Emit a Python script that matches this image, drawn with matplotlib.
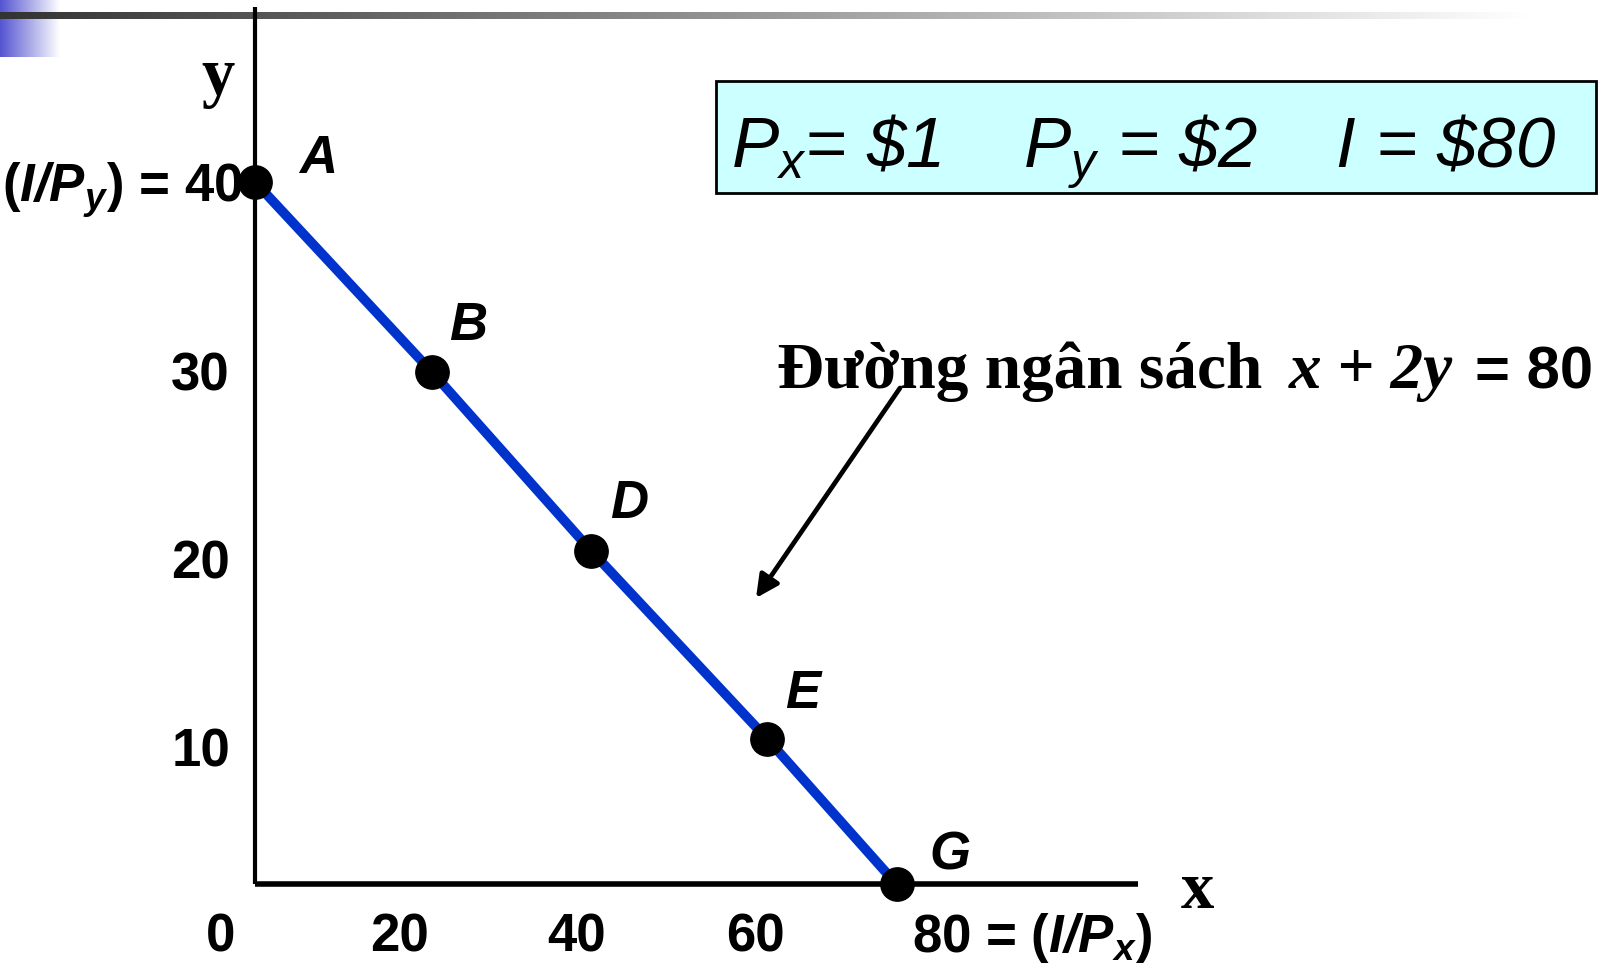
import numpy as np
import matplotlib.pyplot as plt
from matplotlib.patches import Rectangle

SANS = 'Liberation Sans'
SERIF = 'Liberation Serif'

plt.rcParams['mathtext.fontset'] = 'custom'
plt.rcParams['mathtext.rm'] = SANS + ':italic'
plt.rcParams['mathtext.it'] = SANS + ':italic'
plt.rcParams['mathtext.bf'] = SANS + ':bold:italic'

point_names = ['A', 'B', 'D', 'E', 'G']
goods_x = [3.8, 23.7, 41.6, 61.4, 75.9]
goods_y = [40.0, 29.9, 20.4, 10.4, 2.7]

x_ticks = [0, 20, 40, 60]
y_ticks = [10, 20, 30]

# pixel calibration of the slide (label "0" sits at 221,935)
PX0, PY0 = 221, 935
SX, SY = 8.9, 18.83
W, H = 1608, 963


def dx(px):
    return (px - PX0) / SX


def dy(py):
    return (PY0 - py) / SY


fig = plt.figure(figsize=(W / 100, H / 100), dpi=100)

# slide decoration: grey rule and blue corner block
deco = fig.add_axes([0, 0, 1, 1])
t = np.linspace(0, 1, 400)
blue = np.array([0.33, 0.33, 0.82])
blk = blue[None, :] + (1 - blue[None, :]) * t[:, None]
deco.imshow(blk[None, :, :], extent=(0, 60, 57, 0), aspect='auto')
g = np.clip(0.2 + 0.8 * t / 0.95, 0, 1)
grey = np.stack([g, g, g], axis=1)
deco.imshow(grey[None, :, :], extent=(0, W, 19, 12), aspect='auto')
deco.set_xlim(0, W)
deco.set_ylim(H, 0)
deco.axis('off')

ax = fig.add_axes([0, 0, 1, 1])
ax.set_xlim(dx(0), dx(W))
ax.set_ylim(dy(H), dy(0))
ax.axis('off')
ax.patch.set_alpha(0)

# axes drawn by hand, through A and G
ax.plot([goods_x[0], goods_x[0]], [goods_y[-1], dy(7)],
        color='black', lw=3, solid_capstyle='butt')
ax.plot([goods_x[0], dx(1138)], [goods_y[-1], goods_y[-1]],
        color='black', lw=4, solid_capstyle='butt')

ax.plot(goods_x, goods_y, color='#0033CC', lw=7, zorder=3)
ax.scatter(goods_x, goods_y, s=24 ** 2, color='black', zorder=4)

label_offsets = [(63, 9), (36, 32), (38, 33), (35, 31), (53, 15)]
for name, x, y, off in zip(point_names, goods_x, goods_y, label_offsets):
    ax.annotate(name, (x, y), xytext=off, textcoords='offset pixels',
                ha='center', va='baseline', fontsize=38, fontweight='bold',
                fontstyle='italic', family=SANS)

tick_font = dict(fontsize=38, fontweight='bold', family=SANS)
for v in x_ticks:
    ax.text(v, -0.9, str(v), ha='center', va='baseline', **tick_font)
ax.text(77.6, -0.9, r'80 = ($\mathbf{I/P_x}$)', ha='left', va='baseline', **tick_font)
for v in y_ticks:
    ax.text(1.0, v - 1.06, str(v), ha='right', va='baseline', **tick_font)
ax.text(2.4, 40 - 1.06, r'($\mathbf{I/P_y}$) = 40', ha='right', va='baseline', **tick_font)

# axis names
ax.text(dx(218), dy(95), 'y', ha='center', va='baseline', fontsize=48,
        fontweight='bold', family=SERIF)
ax.text(dx(1197), dy(908), 'x', ha='center', va='baseline', fontsize=48,
        fontweight='bold', family=SERIF)

# price box
ax.add_patch(Rectangle((dx(716), dy(193)), dx(1596) - dx(716), dy(81) - dy(193),
                       facecolor='#CCFFFF', edgecolor='black', lw=2, zorder=2))
ax.text(dx(1144), dy(167), r'$P_x$= \$1    $P_y$ = \$2    $I$ = \$80',
        ha='center', va='baseline', fontsize=51, fontstyle='italic',
        family=SANS, zorder=5)

# budget line caption and arrow
cap_y = dy(388)
ax.text(dx(777), cap_y, 'Đường ngân sách', ha='left', va='baseline',
        fontsize=47, fontweight='bold', family=SERIF)
ax.text(dx(1289), cap_y, 'x + 2y', ha='left', va='baseline',
        fontsize=47, fontweight='bold', fontstyle='italic', family=SERIF)
ax.text(dx(1475), cap_y, '= 80', ha='left', va='baseline',
        fontsize=43, fontweight='bold', family=SANS)
ax.annotate('', xy=(dx(756), dy(598)), xytext=(dx(900), dy(388)),
            arrowprops=dict(arrowstyle='-|>', color='black', lw=3.4,
                            mutation_scale=34, shrinkA=0, shrinkB=0))

fig.savefig('out.png', dpi=100)
